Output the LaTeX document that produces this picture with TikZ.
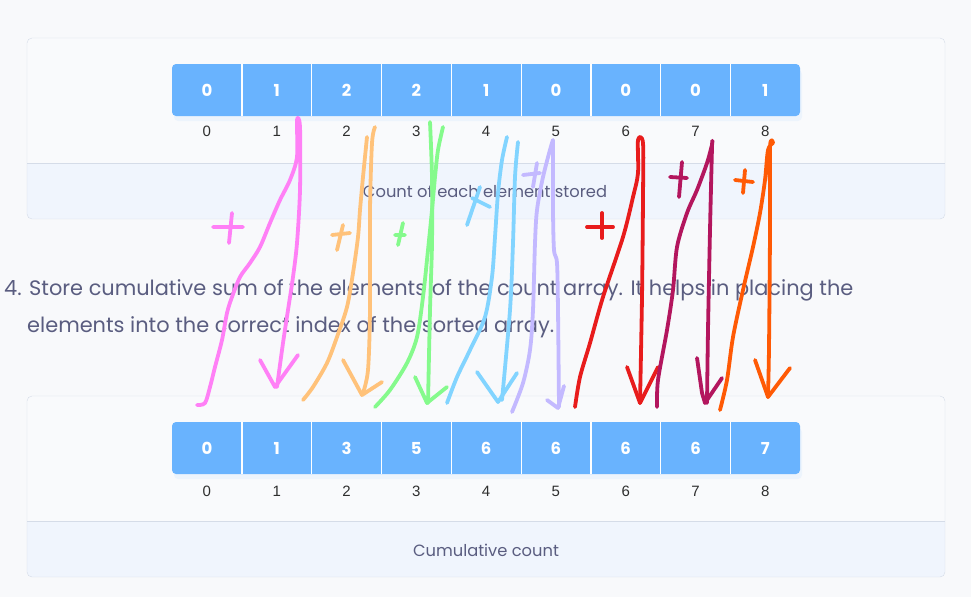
\documentclass[tikz,border=0pt]{standalone}
\usepackage{fontspec}
\setmainfont{Poppins}
\newfontfamily\idxfont{Liberation Sans}
\usepackage{xcolor}
\usetikzlibrary{positioning}

\definecolor{pagebg}{HTML}{F8F9FB}
\definecolor{panelbg}{HTML}{F9FAFC}
\definecolor{stripbg}{HTML}{F0F5FD}
\definecolor{panelline}{HTML}{D5DCE8}
\definecolor{cellblue}{HTML}{69B3FE}
\definecolor{slate}{HTML}{5A5D80}
\definecolor{idxgrey}{HTML}{2E2E2E}
\definecolor{penpink}{HTML}{FF80F6}
\definecolor{penpeach}{HTML}{FFC27A}
\definecolor{pengreen}{HTML}{85FA8C}
\definecolor{pensky}{HTML}{82D4FF}
\definecolor{penlilac}{HTML}{C3B9FF}
\definecolor{penred}{HTML}{E81C1C}
\definecolor{penplum}{HTML}{B3165E}
\definecolor{penorange}{HTML}{FF5A05}

\begin{document}
\begin{tikzpicture}[x=1pt, y=-1pt]
    \tikzstyle{cell} = [rectangle, minimum width=69.8pt, minimum height=52pt, inner sep=0pt, text=white, font=\bfseries\fontsize{16.5}{16.5}\selectfont]
    \tikzstyle{idx} = [inner sep=0pt, text=idxgrey, font=\idxfont\fontsize{15}{15}\selectfont]
    \tikzstyle{caption} = [inner sep=0pt, text=slate, font=\fontsize{16.3}{16.3}\selectfont]
    \tikzstyle{para} = [inner sep=0pt, anchor=base west, text=slate, font=\fontsize{20.9}{20.9}\selectfont]
    \tikzstyle{sep} = [draw=white, line width=1.3pt]
    \tikzstyle{pen} = [line width=3.8pt, line cap=round, line join=round]

    \useasboundingbox (0,0) rectangle (971,597);
    \fill[pagebg] (0,0) rectangle (971,597);

    % the two panels
    \foreach \dy in {0,358} {
        \begin{scope}
            \clip[rounded corners=5pt] (27,38+\dy) rectangle (945,219+\dy);
            \fill[panelbg] (27,38+\dy) rectangle (945,163+\dy);
            \fill[stripbg] (27,163+\dy) rectangle (945,219+\dy);
        \end{scope}
        \draw[panelline] (27,163+\dy) -- (945,163+\dy);
        \draw[panelline, rounded corners=5pt] (27,38+\dy) rectangle (945,219+\dy);
        \fill[cellblue, opacity=0.08, rounded corners=4pt] (174,70+\dy) rectangle (802,121+\dy);
        \fill[cellblue, rounded corners=4pt] (172,64+\dy) rectangle (800,116+\dy);
    }

    % count array
    \foreach \v [count=\i from 0] in {0,1,2,2,1,0,0,0,1} {
        \node[cell] (c\i) at (206.9+69.8*\i, 90) {\v};
        \node[idx] (ci\i) at (206.9+69.8*\i, 131) {\i};
    }
    % cumulative array
    \foreach \v [count=\i from 0] in {0,1,3,5,6,6,6,6,7} {
        \node[cell] (s\i) at (206.9+69.8*\i, 448) {\v};
        \node[idx] (si\i) at (206.9+69.8*\i, 491) {\i};
    }
    \foreach \i in {0,...,7} {
        \draw[sep] (c\i.north east) -- (c\i.south east);
        \draw[sep] (s\i.north east) -- (s\i.south east);
    }

    \node[caption] (countcap) at (485,191) {Count of each element stored};
    \node[caption] (sumcap) at (486,550) {Cumulative count};

    \node[para] (step) at (4,295) {4. Store cumulative sum of the elements of the count array. It helps in placing the};
    \node[para] (stepmore) at (27,332) {elements into the correct index of the sorted array.};

    % hand-drawn strokes
    \draw[pen, penpink] plot[smooth, tension=0.5] coordinates {(197,405) (205,403) (210,387) (215,367) (222,340) (227,313) (232,297) (240,277) (250,263) (260,247) (270,223) (280,200) (290,180) (297,157) (297,120) (300,127) (300,190) (297,243) (293,277) (288,310) (283,343) (277,387)};
    \draw[pen, penpink] (260,360) -- (275,387) -- (298,355);
    \draw[pen, penpink] (213,227) -- (243,227) (232,213) -- (229,243);

    \draw[pen, penpeach] plot[smooth, tension=0.5] coordinates {(303,400) (313,387) (327,363) (337,337) (347,307) (353,273) (358,237) (360,210) (363,177) (367,137)};
    \draw[pen, penpeach] plot[smooth, tension=0.5] coordinates {(375,127) (372,143) (370,210) (370,310) (368,370) (363,393)};
    \draw[pen, penpeach] (343,360) -- (362,395) -- (382,382);
    \draw[pen, penpeach] (332,235) -- (350,233) (343,225) -- (337,250);

    \draw[pen, pengreen] plot[smooth, tension=0.5] coordinates {(375,407) (390,390) (407,363) (417,337) (423,297) (428,250) (432,210) (435,177) (438,150) (443,127)};
    \draw[pen, pengreen] plot[smooth, tension=0.5] coordinates {(430,122) (432,177) (432,243) (430,310) (428,403)};
    \draw[pen, pengreen] (415,377) -- (427,403) -- (447,387);
    \draw[pen, pengreen] (395,235) -- (405,235) (403,223) -- (398,245);

    \draw[pen, pensky] plot[smooth, tension=0.5] coordinates {(447,403) (457,377) (470,350) (485,317) (492,277) (495,237) (498,193) (502,160) (507,137)};
    \draw[pen, pensky] plot[smooth, tension=0.5] coordinates {(518,142) (515,177) (513,243) (510,310) (502,400)};
    \draw[pen, pensky] (477,372) -- (498,402) -- (517,373);
    \draw[pen, pensky] (467,225) -- (480,187) (472,198) -- (490,207);

    \draw[pen, penlilac] plot[smooth, tension=0.5] coordinates {(512,412) (523,383) (530,350) (533,310) (535,243) (537,210) (543,177) (552,143) (553,147) (553,210) (554,250) (557,263) (558,310) (559,407)};
    \draw[pen, penlilac] (547,400) -- (558,408) -- (564,386);
    \draw[pen, penlilac] (523,175) -- (540,173) (537,163) -- (533,187);

    \draw[pen, penred] plot[smooth, tension=0.5] coordinates {(575,407) (580,377) (590,343) (603,297) (623,237) (633,197) (638,173) (638,140) (643,143) (643,197) (642,297) (640,403)};
    \draw[pen, penred] (627,367) -- (640,403) -- (658,367);
    \draw[pen, penred] (587,227) -- (613,227) (602,213) -- (602,238);

    \draw[pen, penplum] plot[smooth, tension=0.5] coordinates {(657,407) (658,380) (667,330) (673,290) (677,247) (687,213) (697,190) (707,163) (712,145) (712,147) (710,230) (708,330) (707,403)};
    \draw[pen, penplum] (697,358) -- (702,393) -- (705,403) -- (722,378);
    \draw[pen, penplum] (670,177) -- (687,178) (682,162) -- (679,197);

    \draw[pen, penorange] plot[smooth, tension=0.5] coordinates {(720,410) (727,380) (733,337) (743,290) (753,247) (760,213) (765,180) (768,150) (773,143) (770,147) (770,230) (769,347) (768,397)};
    \draw[pen, penorange] (755,360) -- (768,397) -- (790,368);
    \draw[pen, penorange] (735,180) -- (753,182) (745,170) -- (743,193);
\end{tikzpicture}
\end{document}
